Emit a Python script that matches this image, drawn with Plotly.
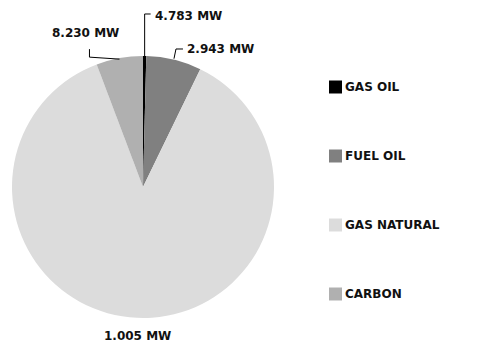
import math
import plotly.graph_objects as go

# Installed capacity by fuel type
fuels = ["GAS OIL", "FUEL OIL", "GAS NATURAL", "CARBON"]
shares = [0.4, 6.8, 87.05, 5.75]          # share of the pie, %
value_labels = ["4.783 MW", "2.943 MW", "1.005 MW", "8.230 MW"]
colors = ["#000000", "#808080", "#dcdcdc", "#b0b0b0"]

W, H = 479, 349
# pie placement in pixels
cx, cy, r = 143, 187, 131

FONT = dict(family="'DejaVu Sans', sans-serif", size=12, color="#111111", weight="bold")


def px(x):
    return x / W


def py(y):
    return 1 - y / H


fig = go.Figure()
fig.add_trace(go.Pie(
    labels=fuels,
    values=shares,
    sort=False,
    direction="clockwise",
    rotation=0,
    marker=dict(colors=colors, line=dict(width=0)),
    textinfo="none",
    hoverinfo="label+percent",
    showlegend=False,
    domain=dict(x=[px(cx - r), px(cx + r)], y=[py(cy + r), py(cy - r)]),
))

# mid angle of each slice (degrees, clockwise from 12 o'clock)
total = sum(shares)
mids = []
acc = 0.0
for s in shares:
    mids.append((acc + s / 2) / total * 360)
    acc += s


def rim(angle_deg, rad=r):
    a = math.radians(angle_deg)
    return cx + rad * math.sin(a), cy - rad * math.cos(a)

shapes = []
annotations = []

# leader lines and value labels
for i, (ang, txt) in enumerate(zip(mids, value_labels)):
    x0, y0 = rim(ang)
    if fuels[i] == "GAS OIL":
        pts = [(x0, y0), (x0, 14), (x0 + 6, 14)]
        annotations.append(dict(x=px(x0 + 8), y=py(16), text=txt, xanchor="left", yanchor="middle"))
    elif fuels[i] == "FUEL OIL":
        pts = [(x0, y0 - 1), (x0 + 2, 49), (x0 + 9, 49)]
        annotations.append(dict(x=px(x0 + 11), y=py(49), text=txt, xanchor="left", yanchor="middle"))
    elif fuels[i] == "CARBON":
        pts = [(x0, y0 + 1), (x0 - 30, y0 - 1), (x0 - 30, y0 - 9)]
        annotations.append(dict(x=px(x0 - 34), y=py(33), text=txt, xanchor="center", yanchor="middle"))
    else:
        pts = None
        annotations.append(dict(x=px(x0), y=py(336), text=txt, xanchor="center", yanchor="middle"))
    if pts:
        path = "M " + " L ".join(f"{px(a):.5f},{py(b):.5f}" for a, b in pts)
        shapes.append(dict(type="path", xref="paper", yref="paper", path=path,
                           line=dict(color="#000000", width=1)))

# legend drawn as swatches + labels
leg_x, leg_y0, leg_gap, sw = 329, 87, 69, 13
for i, (name, col) in enumerate(zip(fuels, colors)):
    yc = leg_y0 + i * leg_gap
    shapes.append(dict(type="rect", xref="paper", yref="paper",
                       x0=px(leg_x), x1=px(leg_x + sw), y0=py(yc + sw / 2), y1=py(yc - sw / 2),
                       fillcolor=col, line=dict(width=0)))
    annotations.append(dict(x=px(leg_x + sw + 1), y=py(yc), text=name,
                            xanchor="left", yanchor="middle"))

for a in annotations:
    a.update(xref="paper", yref="paper", showarrow=False, font=FONT)

fig.update_layout(
    width=W, height=H,
    margin=dict(l=0, r=0, t=0, b=0),
    paper_bgcolor="white",
    plot_bgcolor="white",
    shapes=shapes,
    annotations=annotations,
)

fig.write_html("out.html")
